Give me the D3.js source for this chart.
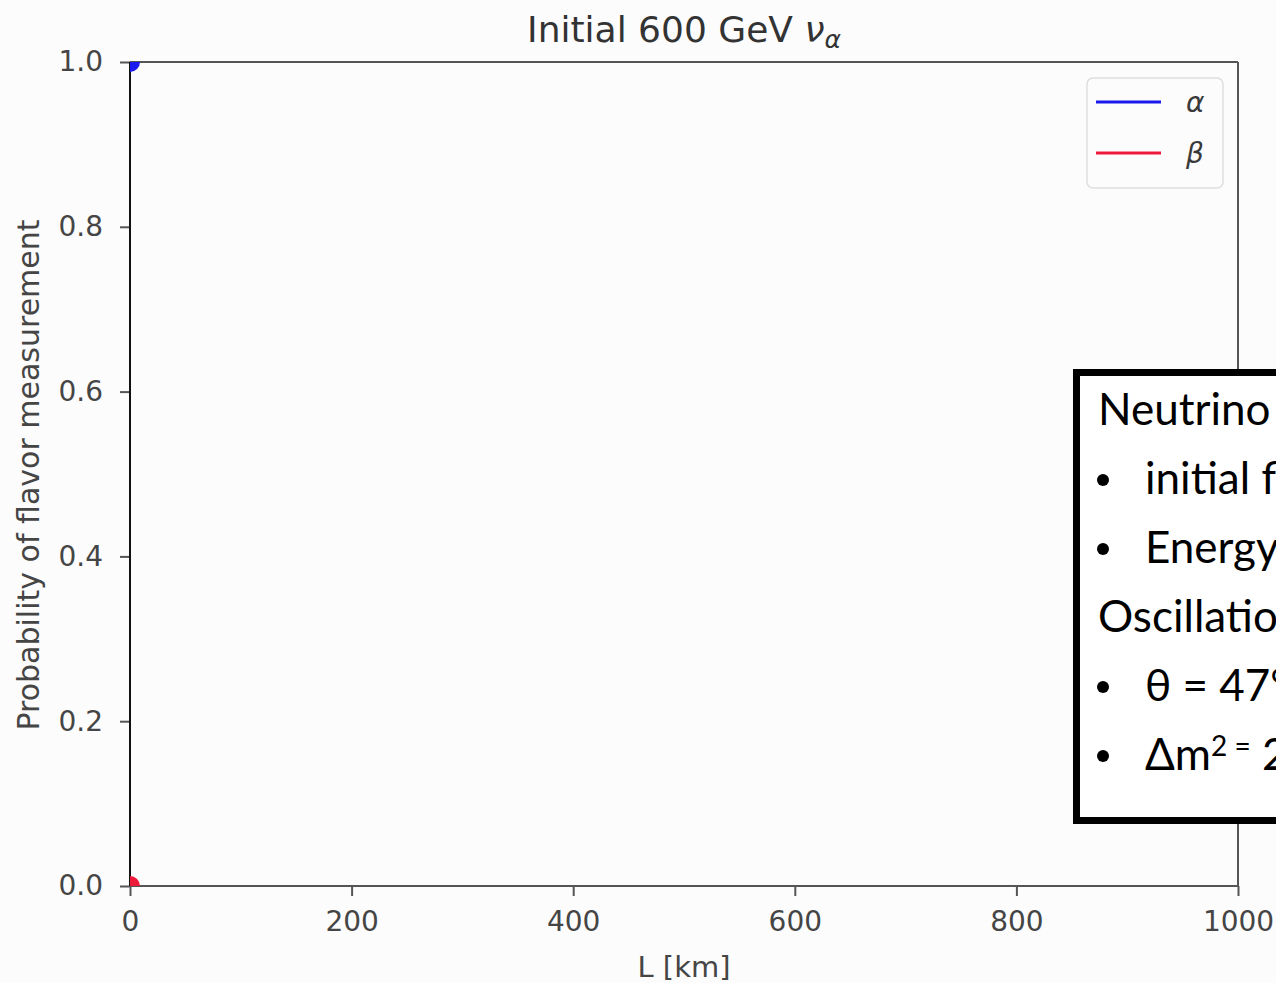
<!DOCTYPE html>
<html>
<head>
<meta charset="utf-8">
<script src="https://cdn.jsdelivr.net/npm/d3@7"></script>
<style>
  html, body { margin: 0; padding: 0; background: #fcfcfc; overflow: hidden; }
  svg { display: block; }
</style>
</head>
<body>
<svg id="chart" width="1276" height="983"></svg>
<script>
// Propagation distance (km) and flavor probabilities at the first step
const distanceKm = [0];
const probAlpha = [1.0];
const probBeta = [0.0];

const xTicks = [0, 200, 400, 600, 800, 1000];
const yTicks = [0.0, 0.2, 0.4, 0.6, 0.8, 1.0];

const seriesNames = ["α", "β"];
const seriesColors = ["#1a1aee", "#ee1a3a"];

const titleText = "Initial 600 GeV ";
const xLabel = "L [km]";
const yLabel = "Probability of flavor measurement";

// Info panel lines: [isBullet, main text, superscript part, tail]
const infoLines = [
  [false, "Neutrino properties:", "", ""],
  [true, "initial flavor: α", "", ""],
  [true, "Energy = 600 GeV", "", ""],
  [false, "Oscillation parameters:", "", ""],
  [true, "θ = 47°", "", ""],
  [true, "Δm", "2 =", " 2.5e-3 eV²"]
];

const svg = d3.select("#chart");
const margin = { left: 130, right: 1238, top: 62, bottom: 886 };

const x = d3.scaleLinear().domain([0, 1000]).range([margin.left, margin.right]);
const y = d3.scaleLinear().domain([0, 1]).range([margin.bottom, margin.top]);

const tickFont = "'DejaVu Sans', sans-serif";
const tickColor = "#454545";

// Title
const title = svg.append("text")
  .attr("x", (margin.left + margin.right) / 2)
  .attr("y", 42)
  .attr("text-anchor", "middle")
  .attr("font-family", tickFont)
  .attr("font-size", 36)
  .attr("fill", "#333");
title.append("tspan").text(titleText);
title.append("tspan").attr("font-style", "italic").text("ν");
title.append("tspan").attr("font-style", "italic")
  .attr("font-size", 25).attr("dy", 6).text("α");

// Clip for the data markers
svg.append("clipPath").attr("id", "plotClip")
  .append("rect")
  .attr("x", margin.left).attr("y", margin.top)
  .attr("width", margin.right - margin.left)
  .attr("height", margin.bottom - margin.top);

// Axes
const xAxis = d3.axisBottom(x).tickValues(xTicks).tickSize(10).tickPadding(15).tickFormat(d3.format("d"));
const yAxis = d3.axisLeft(y).tickValues(yTicks).tickSize(10).tickPadding(17).tickFormat(d3.format(".1f"));

const gx = svg.append("g").attr("transform", `translate(0,${margin.bottom})`).call(xAxis);
const gy = svg.append("g").attr("transform", `translate(${margin.left},0)`).call(yAxis);

[gx, gy].forEach(g => {
  g.select(".domain").remove();
  g.selectAll(".tick line").attr("stroke", "#555").attr("stroke-width", 2);
  g.selectAll(".tick text")
    .attr("font-family", tickFont)
    .attr("font-size", 28)
    .attr("fill", tickColor);
});

// Frame
svg.append("line").attr("x1", margin.left).attr("x2", margin.right)
  .attr("y1", margin.top).attr("y2", margin.top)
  .attr("stroke", "#555").attr("stroke-width", 2);
svg.append("line").attr("x1", margin.right).attr("x2", margin.right)
  .attr("y1", margin.top).attr("y2", margin.bottom)
  .attr("stroke", "#555").attr("stroke-width", 2);
svg.append("line").attr("x1", margin.left).attr("x2", margin.right)
  .attr("y1", margin.bottom).attr("y2", margin.bottom)
  .attr("stroke", "#555").attr("stroke-width", 2);
svg.append("line").attr("x1", margin.left).attr("x2", margin.left)
  .attr("y1", margin.top).attr("y2", margin.bottom)
  .attr("stroke", "#111").attr("stroke-width", 2);

// Series
const series = [probAlpha, probBeta];
const plot = svg.append("g").attr("clip-path", "url(#plotClip)");
series.forEach((vals, i) => {
  const pts = distanceKm.map((d, j) => [d, vals[j]]);
  plot.append("path")
    .datum(pts)
    .attr("fill", "none")
    .attr("stroke", seriesColors[i])
    .attr("stroke-width", 3)
    .attr("d", d3.line().x(d => x(d[0])).y(d => y(d[1])));
  plot.selectAll(null)
    .data(pts.slice(-1))
    .enter().append("circle")
    .attr("cx", d => x(d[0]))
    .attr("cy", d => y(d[1]))
    .attr("r", 10)
    .attr("fill", seriesColors[i]);
});

// Axis labels
svg.append("text")
  .attr("x", (margin.left + margin.right) / 2)
  .attr("y", 977)
  .attr("text-anchor", "middle")
  .attr("font-family", tickFont)
  .attr("font-size", 29)
  .attr("fill", tickColor)
  .text(xLabel);

svg.append("text")
  .attr("transform", `translate(39,${(margin.top + margin.bottom) / 2 + 1}) rotate(-90)`)
  .attr("text-anchor", "middle")
  .attr("font-family", tickFont)
  .attr("font-size", 30)
  .attr("fill", tickColor)
  .text(yLabel);

// Legend
const legend = svg.append("g");
legend.append("rect")
  .attr("x", 1087).attr("y", 78).attr("width", 136).attr("height", 110)
  .attr("rx", 6)
  .attr("fill", "#fcfcfc").attr("stroke", "#dedede").attr("stroke-width", 1.5);
seriesNames.forEach((name, i) => {
  const ly = 102 + i * 51;
  legend.append("line")
    .attr("x1", 1096).attr("x2", 1161).attr("y1", ly).attr("y2", ly)
    .attr("stroke", seriesColors[i]).attr("stroke-width", 3);
  legend.append("text")
    .attr("x", 1186).attr("y", ly + 10)
    .attr("font-family", tickFont)
    .attr("font-style", "italic")
    .attr("font-size", 28)
    .attr("fill", "#3a3a3a")
    .text(name);
});

// Info panel
const panel = svg.append("g");
panel.append("rect")
  .attr("x", 1076.5).attr("y", 372.5).attr("width", 400).attr("height", 448)
  .attr("fill", "#ffffff").attr("stroke", "#000").attr("stroke-width", 7);

infoLines.forEach((ln, i) => {
  const base = 425 + i * 69;
  const [bullet, main, sup, tail] = ln;
  if (bullet) {
    panel.append("circle").attr("cx", 1103).attr("cy", base - 14).attr("r", 6).attr("fill", "#000");
  }
  const t = panel.append("text")
    .attr("x", bullet ? 1145 : 1098)
    .attr("y", base)
    .attr("font-family", "Lato, sans-serif")
    .attr("font-size", 44)
    .attr("fill", "#000");
  t.append("tspan").text(main);
  if (sup) {
    t.append("tspan").attr("font-size", 28).attr("dy", -14).text(sup);
    t.append("tspan").attr("dy", 14).text(tail);
  }
});
</script>
</body>
</html>
